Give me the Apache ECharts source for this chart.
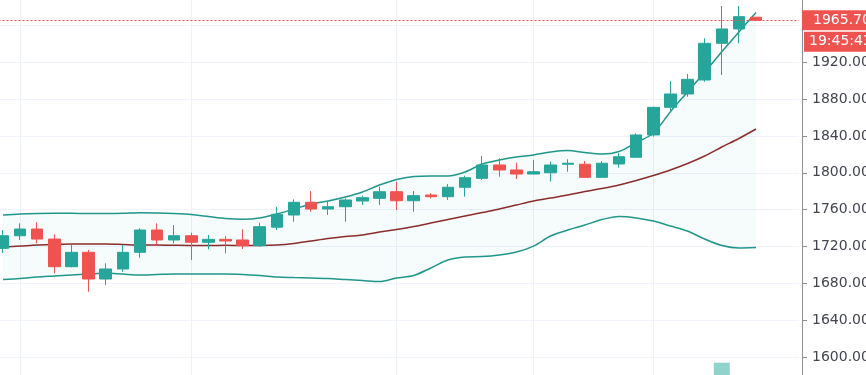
<!DOCTYPE html>
<html><head><meta charset="utf-8">
<script src="https://cdn.jsdelivr.net/npm/echarts@6/dist/echarts.min.js"></script>
<style>html,body{margin:0;padding:0;background:#fff}#c{width:866px;height:375px}</style>
</head><body><div id="c"></div>
<script>
// 45 candles + 2 empty slots on the right
const categories = ['c01','c02','c03','c04','c05','c06','c07','c08','c09','c10','c11','c12','c13','c14','c15','c16','c17','c18','c19','c20','c21','c22','c23','c24','c25','c26','c27','c28','c29','c30','c31','c32','c33','c34','c35','c36','c37','c38','c39','c40','c41','c42','c43','c44','c45','c46','c47'];
const open  = [1718.0,1731.7,1739.0,1728.1,1698.1,1713.7,1684.7,1695.6,1713.7,1737.9,1727.1,1731.7,1724.6,1727.8,1727.1,1720.9,1741.0,1754.2,1768.0,1760.7,1763.2,1769.4,1772.3,1779.5,1769.7,1775.9,1774.1,1784.3,1794.0,1808.5,1803.1,1798.7,1800.1,1809.3,1809.3,1795.1,1809.6,1816.9,1841.1,1871.1,1885.6,1900.8,1940.6,1956.2,1968.9];
const close = [1731.7,1739.0,1728.1,1698.1,1713.7,1684.7,1695.6,1713.7,1737.9,1727.1,1731.7,1724.6,1727.8,1726.0,1720.9,1741.5,1755.0,1768.0,1760.7,1763.2,1770.5,1773.0,1779.5,1769.7,1775.2,1774.1,1784.3,1794.7,1808.5,1803.1,1798.7,1801.2,1808.5,1810.4,1795.1,1810.4,1817.5,1841.1,1871.1,1885.6,1901.5,1940.6,1956.2,1969.5,1965.7];
const low   = [1712.9,1727.1,1723.5,1690.9,1697.5,1670.9,1678.2,1692.6,1707.8,1721.6,1723.5,1705.3,1717.0,1712.6,1717.3,1719.8,1737.9,1746.9,1757.8,1754.2,1746.9,1765.1,1765.1,1759.6,1757.8,1772.3,1770.5,1774.1,1792.2,1795.8,1793.3,1798.5,1790.4,1801.2,1794.8,1794.8,1805.6,1816.5,1839.2,1866.4,1882.6,1898.9,1906.2,1940.6,1965.5];
const high  = [1737.9,1745.2,1746.3,1733.2,1721.6,1716.2,1701.8,1721.6,1739.8,1745.2,1743.3,1735.0,1732.5,1731.4,1738.7,1745.9,1763.2,1771.2,1780.3,1768.6,1772.3,1775.2,1784.9,1790.4,1780.3,1777.8,1787.9,1796.9,1818.3,1815.8,1811.0,1813.9,1812.1,1814.7,1812.8,1812.8,1821.2,1842.9,1871.8,1899.7,1907.3,1946.1,1981.1,1981.1,1969.2];
const bbUpper = [1754.2,1755.3,1755.8,1756.0,1756.0,1755.8,1755.8,1756.0,1756.6,1756.4,1755.8,1754.7,1752.6,1750.4,1749.5,1750.9,1755.3,1760.7,1766.1,1769.4,1773.7,1779.2,1786.8,1792.8,1796.0,1796.6,1796.6,1800.9,1809.6,1813.9,1817.2,1819.4,1822.6,1824.2,1822.1,1820.4,1823.2,1832.9,1842.9,1866.4,1887.8,1909.2,1931.5,1952.9,1974.1];
const bbBasis = [1719.5,1720.5,1721.6,1722.2,1722.7,1722.7,1722.7,1722.2,1721.6,1721.6,1721.3,1721.1,1721.1,1721.3,1721.1,1721.1,1721.6,1723.3,1726.0,1728.7,1730.9,1732.5,1735.7,1738.5,1741.7,1745.5,1749.3,1753.1,1756.9,1760.7,1765.1,1769.4,1772.7,1775.9,1779.7,1783.0,1786.8,1791.7,1797.1,1803.1,1810.1,1818.3,1828.0,1837.3,1847.6];
const bbLower = [1684.2,1685.3,1686.9,1688.0,1689.1,1690.1,1691.2,1690.1,1689.1,1689.6,1690.1,1690.1,1690.1,1690.1,1689.6,1688.5,1686.9,1686.3,1685.8,1685.3,1684.2,1683.1,1682.0,1685.8,1688.5,1696.7,1705.3,1708.6,1709.1,1710.8,1714.0,1720.5,1731.4,1737.9,1743.3,1749.3,1752.6,1751.0,1747.7,1742.3,1736.8,1728.1,1721.1,1718.4,1718.9];
// relative volume; only the one bar that reaches into view is known
const volume = [null,null,null,null,null,null,null,null,null,null,null,null,null,null,null,null,null,null,null,null,null,null,null,null,null,null,null,null,null,null,null,null,null,null,null,null,null,null,null,null,null,null,7.7,null,null];
const yTicks = {min: 1560, max: 2000, interval: 40};
const gridBreaks = ['c02','c12','c24','c32','c39'];
const countdown = '19:45:43';

const UP = '#26a69a', DOWN = '#ef5350';
const candles = open.map((o, i) => [o, close[i], low[i], high[i]]);
const bandDiff = bbUpper.map((u, i) => +(u - bbLower[i]).toFixed(2));
const lastPrice = close[close.length - 1];

const chart = echarts.init(document.getElementById('c'), null, {renderer: 'canvas'});
chart.setOption({
  animation: false,
  backgroundColor: '#ffffff',
  grid: {left: -5.56, right: 67.2, top: -11.4, bottom: -18.9, containLabel: false, outerBoundsMode: 'none'},
  xAxis: {
    type: 'category', data: categories, boundaryGap: true,
    axisLine: {show: false}, axisTick: {show: false}, axisLabel: {show: false}, splitLine: {show: false}
  },
  yAxis: [{
    type: 'value', position: 'right', offset: 3.2, scale: true,
    min: yTicks.min, max: yTicks.max, interval: yTicks.interval,
    axisLine: {show: true, lineStyle: {color: '#8a8d96', width: 1}},
    axisTick: {show: true, length: 5, inside: false, lineStyle: {color: '#8a8d96'}},
    axisLabel: {show: true, margin: 10, color: '#434651', fontFamily: 'DejaVu Sans', fontSize: 14,
      formatter: v => v.toFixed(2)},
    splitLine: {show: true, lineStyle: {color: '#f0f3fa', width: 1}}
  }, {
    type: 'value', min: 0, max: 100, show: false, splitLine: {show: false}
  }],
  series: [
    {
      name: 'BB lower', type: 'line', data: bbLower, stack: 'bb', symbol: 'none', smooth: 0.3,
      lineStyle: {color: '#21968a', width: 1.5}, z: 1, silent: true
    },
    {
      name: 'BB band', type: 'line', data: bandDiff, stack: 'bb', symbol: 'none', smooth: 0.3,
      lineStyle: {color: '#21968a', width: 1.5},
      areaStyle: {color: 'rgba(38,166,154,0.06)'}, z: 1, silent: true
    },
    {
      name: 'BB basis', type: 'line', data: bbBasis, symbol: 'none', smooth: 0.3,
      lineStyle: {color: '#8a2d2d', width: 1.5}, z: 1, silent: true,
      markLine: {
        silent: true, symbol: ['none', 'none'], label: {show: false},
        lineStyle: {color: '#eef1f6', width: 1, type: 'solid'},
        data: gridBreaks.map(c => ({xAxis: c})), z: 0
      }
    },
    {
      name: 'Volume', type: 'bar', yAxisIndex: 1, data: volume, barWidth: 16,
      itemStyle: {color: 'rgba(38,166,154,0.5)'}, silent: true, z: 1
    },
    {
      name: 'Price', type: 'candlestick', data: candles, barWidth: 12,
      itemStyle: {color: UP, color0: DOWN, borderColor: UP, borderColor0: DOWN, borderWidth: 1},
      z: 3,
      markLine: {
        silent: true, symbol: ['none', 'none'], label: {show: false},
        lineStyle: {color: DOWN, width: 1, type: [2, 2]},
        data: [{yAxis: lastPrice}]
      }
    }
  ]
});

const py = chart.convertToPixel({yAxisIndex: 0}, lastPrice);
chart.setOption({
  graphic: [
    {type: 'rect', z: 100, shape: {x: 802, y: py - 10, width: 70, height: 20}, style: {fill: DOWN}},
    {type: 'text', z: 101, style: {x: 813, y: py, text: lastPrice.toFixed(2), fill: '#ffffff',
      font: '14px "DejaVu Sans"', textVerticalAlign: 'middle', verticalAlign: 'middle'}},
    {type: 'rect', z: 100, shape: {x: 804, y: py + 11.5, width: 70, height: 20}, style: {fill: DOWN}},
    {type: 'text', z: 101, style: {x: 809, y: py + 21.5, text: countdown, fill: '#ffffff',
      font: '14px "DejaVu Sans"', textVerticalAlign: 'middle', verticalAlign: 'middle'}}
  ]
});
</script></body></html>
